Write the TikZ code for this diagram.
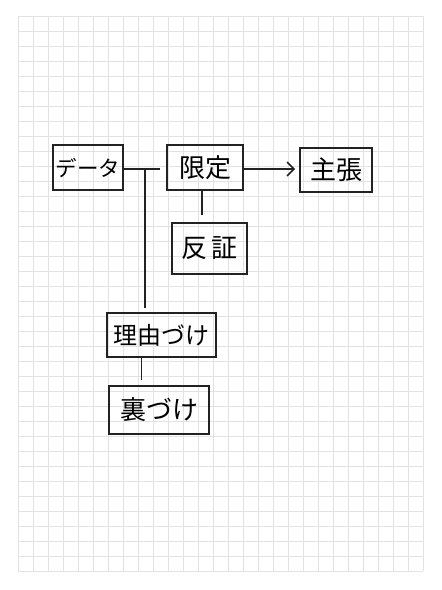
\documentclass[tikz,border=0pt]{standalone}
\usepackage{fontspec}
\newfontfamily\jpfont{Noto Sans CJK JP}
\usetikzlibrary{arrows.meta, positioning}
\definecolor{ink}{HTML}{222222}
\definecolor{gridgray}{HTML}{E2E2E2}
\tikzset{
  gridline/.style={gridgray, line width=0.9pt},
  box/.style={draw=ink, line width=1.6pt, inner sep=0pt, font=\jpfont\fontsize{26}{28}\selectfont},
  link/.style={ink, line width=1.6pt},
}

\begin{document}
\begin{tikzpicture}[x=1pt, y=-1pt]
  \useasboundingbox (0,0) rectangle (442,590);
  % ================================================================
  % grid paper
  % ================================================================
  \foreach \i in {0,...,27} {
    \draw[gridline] ({18+15*\i},16) -- ({18+15*\i},571);
  }
  \foreach \j in {0,...,37} {
    \draw[gridline] (18,{16+15*\j}) -- (423,{16+15*\j});
  }
  % boxes ----------------------------------------------------------
  \node[box, minimum width=70, minimum height=45, font=\jpfont\fontsize{21.5}{23}\selectfont] (data) at (88,167.5) {データ};
  \node[box, minimum width=76, minimum height=45] (qual) at (205,167.5) {限定};
  \node[box, minimum width=72, minimum height=44] (claim) at (336,170) {主張};
  \node[box, minimum width=75, minimum height=51] (rebut) at (209.5,248.5) {反\,証};
  \node[box, minimum width=109, minimum height=44, font=\jpfont\fontsize{24}{26}\selectfont] (warrant) at (161.5,335) {理由づけ};
  \node[box, minimum width=100, minimum height=48] (backing) at (159,410) {裏づけ};
  % connectors -----------------------------------------------------
  \coordinate (junc) at (145,169);
  \draw[link, shorten >=6pt] (data.east |- junc) -- (qual.west |- junc);
  \draw[link, shorten >=4pt] (junc) -- (junc |- warrant.north);
  \draw[link, -{Straight Barb[length=7pt, width=14pt]}, shorten >=4pt] (qual.east |- junc) -- (claim.west |- junc);
  \draw[link, shorten >=7pt] ([xshift=-3pt]qual.south) -- ([xshift=-3pt]qual.south |- rebut.north);
  \draw[link, shorten >=5pt] ([xshift=-20pt]warrant.south) -- ([xshift=-20pt]warrant.south |- backing.north);
\end{tikzpicture}
\end{document}
